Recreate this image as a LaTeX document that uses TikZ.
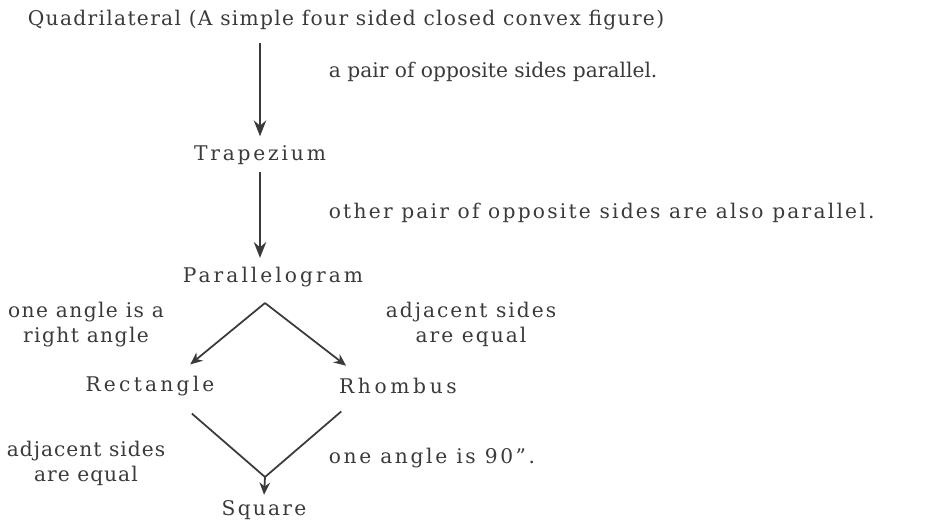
\documentclass[tikz,border=0pt]{standalone}
\usepackage{fontspec}
\setmainfont{DejaVu Serif}
\usepackage{xcolor}
\definecolor{inkgray}{HTML}{3A3A3A}
\usepackage{tikz}
\usetikzlibrary{arrows.meta, positioning, calc}

\begin{document}
\begin{tikzpicture}[
  x=0.02cm, y=-0.02cm,
  every node/.style={font=\fontsize{11.5}{14.2}\selectfont, text=inkgray, inner sep=2pt},
  wide/.style={font=\fontsize{11.5}{14.2}\selectfont\addfontfeature{LetterSpace=#1}},
  figname/.style={wide=#1},
  note/.style={align=center, wide=#1},
  arr/.style={-{Stealth[length=9pt, width=7pt]}, draw=inkgray, line width=1.6pt},
  branch/.style={-{Stealth[length=7pt, width=6pt]}, draw=inkgray, line width=1pt},
  vline/.style={draw=inkgray, line width=1pt}
]
\useasboundingbox (0,0) rectangle (928,522);

% shapes
\node[figname=6.5] (quad) at (346,20) {Quadrilateral (A simple four sided closed convex figure)};
\node[figname=14] (trap) at (260,155) {Trapezium};
\node[figname=15] (para) at (273,277) {Parallelogram};
\node[figname=16] (rect) at (150,386) {Rectangle};
\node[figname=18] (rhom) at (398,386) {Rhombus};
\node[figname=11] (sq) at (264,510) {Square};

% conditions
\node[anchor=west, wide=0] (pairlbl) at (325,72) {a pair of opposite sides parallel.};
\node[anchor=west, wide=11] (otherlbl) at (325,213) {other pair of opposite sides are also parallel.};
\node[note=7] (rightlbl) at (86,325) {one angle is a\\right angle};
\node[note=10] (adjlbl) at (471,324) {adjacent sides\\are equal};
\node[note=5] (adjlbl2) at (86,463) {adjacent sides\\are equal};
\node[anchor=west, wide=13] (ninetylbl) at (325,458) {one angle is 90\symbol{"22}.};

% arrows
\draw[arr, shorten <=5pt, shorten >=3pt] (trap.north |- quad.south) -- (trap.north);
\draw[arr, shorten <=2pt, shorten >=3pt] (trap.south) -- (trap.south |- para.north);

\coordinate (top) at (265,303);
\draw[branch, shorten >=7pt] (top) -- ($(rect.north)!0.45!(rect.north east)$);
\draw[branch, shorten >=8pt] (top) -- ($(rhom.north west)!0.35!(rhom.north)$);

\coordinate (meet) at (265,477);
\draw[vline, shorten <=12pt] ($(rect.south)!0.38!(rect.south east)$) -- (meet);
\draw[vline, shorten <=12pt] ($(rhom.south west)!0.35!(rhom.south)$) -- (meet);
\draw[branch, shorten >=1pt] (meet) -- (sq.north);
\end{tikzpicture}
\end{document}
